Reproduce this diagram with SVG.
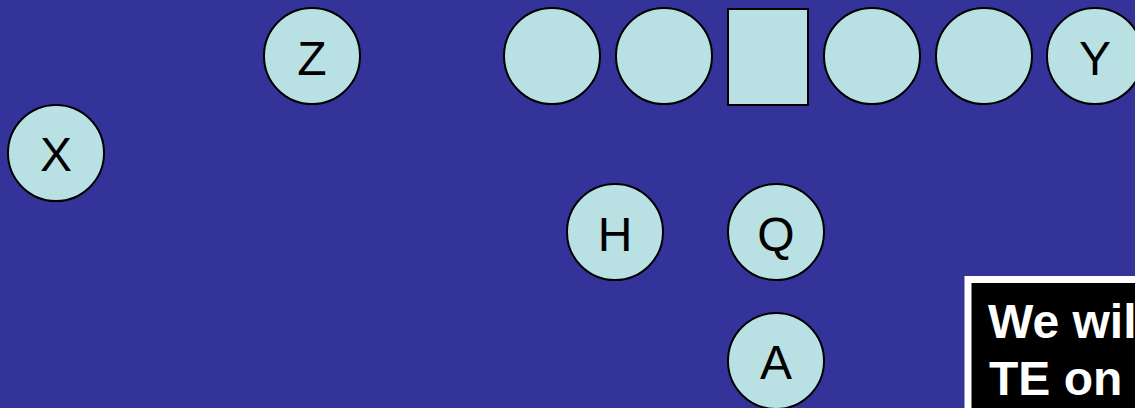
<svg xmlns="http://www.w3.org/2000/svg" width="1135" height="408" viewBox="0 0 1135 408">
<style>
.n{fill:#B9E0E3;stroke:#000;stroke-width:2}
.t{font-family:"Liberation Sans",Arial,sans-serif;font-size:48px;fill:#000;text-anchor:middle}
.b{font-family:"Liberation Sans",Arial,sans-serif;font-size:48px;font-weight:bold;fill:#fff}
</style>
<rect x="0" y="0" width="1135" height="408" fill="#333399"/>
<g id="connectors"/>
<g id="node-x"><circle class="n" cx="56" cy="153" r="48"/><text class="t" x="56" y="171">X</text></g>
<g id="node-z"><circle class="n" cx="312" cy="56" r="48"/><text class="t" x="312" y="75">Z</text></g>
<g id="node-l2"><circle class="n" cx="552" cy="56" r="48"/></g>
<g id="node-l1"><circle class="n" cx="664" cy="56" r="48"/></g>
<g id="node-c"><rect class="n" x="728" y="9" width="80" height="96"/></g>
<g id="node-r1"><circle class="n" cx="872" cy="56" r="48"/></g>
<g id="node-r2"><circle class="n" cx="984" cy="56" r="48"/></g>
<g id="node-y"><circle class="n" cx="1095" cy="56" r="48"/><text class="t" x="1095" y="75">Y</text></g>
<g id="node-h"><circle class="n" cx="615" cy="232" r="48"/><text class="t" x="615" y="251">H</text></g>
<g id="node-q"><circle class="n" cx="776" cy="232" r="48"/><text class="t" x="776" y="251">Q</text></g>
<g id="node-a"><circle class="n" cx="776" cy="361" r="48"/><text class="t" x="776" y="379">A</text></g>
<g id="note"><rect x="968" y="279.5" width="220" height="160" fill="#000" stroke="#fff" stroke-width="7"/>
<text class="b" x="988" y="338">We wil</text>
<text class="b" x="989" y="395">TE on</text></g>
</svg>
